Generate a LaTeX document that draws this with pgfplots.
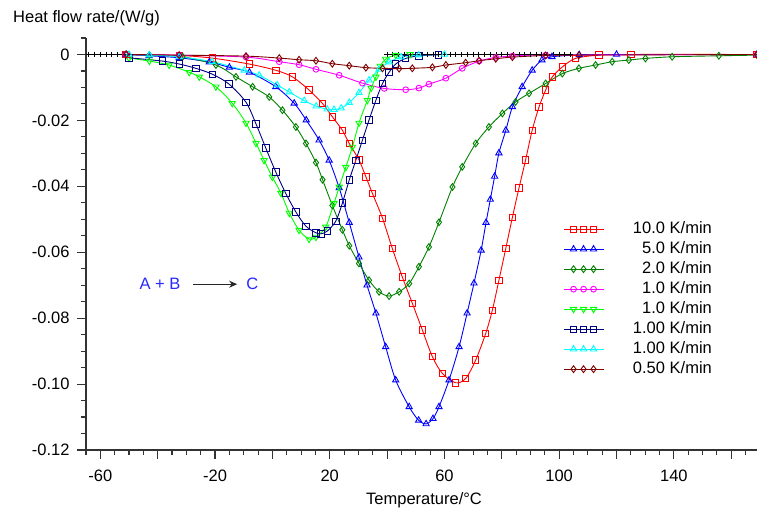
\documentclass[border=0pt]{standalone}
\usepackage{fontspec}
\setmainfont{Liberation Sans}
\usepackage{pgfplots}
\pgfplotsset{compat=1.18}
\usetikzlibrary{arrows.meta}
\newcommand{\fs}{\fontsize{16.5}{19}\selectfont}
\definecolor{cRed}{RGB}{255,0,0}
\definecolor{cBlue}{RGB}{0,0,255}
\definecolor{cDkGreen}{RGB}{0,128,0}
\definecolor{cMag}{RGB}{255,0,255}
\definecolor{cLime}{RGB}{0,255,0}
\definecolor{cNavy}{RGB}{0,0,128}
\definecolor{cCyan}{RGB}{0,255,255}
\definecolor{cBrown}{RGB}{128,0,0}
\definecolor{cText}{RGB}{40,40,255}
\begin{document}
\begin{tikzpicture}
\useasboundingbox (-86pt,-58pt) rectangle (671pt,450pt);
\begin{axis}[
  scale only axis, width=671pt, height=412pt,
  xmin=-65, xmax=169, ymin=-0.12, ymax=0.005,
  axis lines*=left,
  axis line style={line width=1.1pt, black!80},
  tick style={line width=1.1pt, black!80},
  tick align=outside,
  major tick length=9pt, minor tick length=5pt,
  xtick={-60,-40,-20,0,20,40,60,80,100,120,140,160},
  xticklabels={-60,,-20,,20,,60,,100,,140,},
  minor xtick={-65,-55,-50,-45,-35,-30,-25,-15,-10,-5,5,10,15,25,30,35,45,50,55,65,70,75,85,90,95,105,110,115,125,130,135,145,150,155,165},
  ytick={-0.12,-0.1,-0.08,-0.06,-0.04,-0.02,0},
  yticklabels={-0.12,-0.10,-0.08,-0.06,-0.04,-0.02,0},
  minor ytick={0.005,-0.005,-0.01,-0.015,-0.025,-0.03,-0.035,-0.045,-0.05,-0.055,-0.065,-0.07,-0.075,-0.085,-0.09,-0.095,-0.105,-0.11,-0.115},
  scaled x ticks=false, scaled y ticks=false,
  tick label style={font=\fs},
  xticklabel style={yshift=-7pt},
  yticklabel style={xshift=-4pt},
  legend style={draw=none, fill=none, at={(axis description cs:0.711,0.553)}, anchor=north west,
    inner sep=0pt, outer sep=0pt, row sep=6pt, column sep=29pt, font=\fs,
    nodes={inner sep=0pt, text height=11pt, text depth=3pt}},
  legend cell align=right,
  legend image code/.code={\draw[mark repeat=2, mark phase=2] plot coordinates {(0pt,0pt) (10pt,0pt) (15pt,0pt) (20pt,0pt) (25pt,0pt) (30pt,0pt) (40pt,0pt)};},
  every axis plot/.append style={line width=0.9pt, mark options={solid}},
]
% black baseline with + marks
\addplot[black, mark=+, mark size=2.8pt, forget plot] coordinates {(-64,0) (-62,0) (-60,0) (-58,0) (-56,0) (-54,0) (-52,0) (-50,0)};
\addplot[black, mark=+, mark size=2.8pt, forget plot] coordinates {(40,0) (42,0) (44,0) (46,0) (48,0) (50,0) (52,0) (54,0) (56,0) (58,0) (60,0) (62,0) (64,0) (66,0) (68,0) (70,0) (72,0) (74,0) (76,0) (78,0) (80,0) (82,0) (84,0) (86,0) (88,0) (90,0) (92,0) (94,0) (96,0) (98,0) (100,0) (102,0) (104,0)};

% 10.0 K/min
\addplot[cRed, mark=square, mark size=3.2pt, smooth] coordinates {
(-51,0) (-32.5,-0.0003) (-21,-0.0011) (-8.1,-0.0029) (1.2,-0.0048) (7,-0.0068) (12.8,-0.0108) (17.5,-0.0149) (20.9,-0.0189) (24.4,-0.0230) (26.8,-0.0270) (30.2,-0.0320) (32.6,-0.0371) (34.9,-0.0422) (38.4,-0.0497) (41.8,-0.0588) (45.3,-0.0675) (48.8,-0.0755) (52.3,-0.0836) (55.8,-0.0917) (59.3,-0.0968) (63.9,-0.0996) (67.4,-0.0983) (70.9,-0.0927) (74.4,-0.0846) (76.7,-0.0776) (79,-0.0685) (81.4,-0.0588) (83.7,-0.0494) (86,-0.0405) (88.3,-0.0320) (90.6,-0.0230) (93,-0.0159) (95.3,-0.0108) (97.6,-0.0068) (101.1,-0.0038) (105.7,-0.0012) (113.9,-0.0002) (125,0) (169,0)};
\addlegendentry{10.0 K/min}
% 5.0 K/min
\addplot[cBlue, mark=triangle, mark size=3.6pt, smooth] coordinates {
(-51,0) (-43,-0.0004) (-32.5,-0.0010) (-22,-0.0023) (-15,-0.0039) (-8,-0.0054) (1.2,-0.0098) (7.6,-0.0148) (11.8,-0.0199) (16.3,-0.0260) (19.8,-0.0321) (23.3,-0.0405) (26.8,-0.0510) (30.2,-0.0615) (33,-0.0700) (36.1,-0.0785) (39.5,-0.0887) (43,-0.0988) (47.7,-0.1069) (51,-0.1110) (53.6,-0.1121) (56,-0.1105) (58.1,-0.1069) (61.6,-0.0988) (65.1,-0.0887) (67.9,-0.0785) (70.3,-0.0694) (72.8,-0.0594) (74.5,-0.0510) (76,-0.0440) (77.5,-0.0370) (79,-0.0299) (81.4,-0.0230) (83.7,-0.0159) (87.1,-0.0098) (90.6,-0.0048) (94,-0.0017) (97.5,-0.0007) (107,-0.0001) (120,0) (169,0)};
\addlegendentry{5.0 K/min}
% 2.0 K/min
\addplot[cDkGreen, mark=diamond, mark size=3.4pt, smooth] coordinates {
(-51,0) (-42.9,-0.0002) (-31.3,-0.0007) (-19.7,-0.0032) (-12.7,-0.0068) (-6.9,-0.0098) (-1.1,-0.0129) (3.5,-0.0169) (8.2,-0.0220) (11.7,-0.0270) (15.2,-0.0328) (17.5,-0.0380) (20.9,-0.0458) (24.4,-0.0532) (26.8,-0.0580) (30.2,-0.0634) (33.7,-0.0685) (37.2,-0.0720) (40.7,-0.0733) (44.2,-0.0720) (47.7,-0.0695) (51.1,-0.0644) (54.6,-0.0584) (58.1,-0.0509) (62.8,-0.0402) (66.2,-0.0341) (70.9,-0.0270) (75.5,-0.0220) (80.2,-0.0179) (84.8,-0.0144) (89.5,-0.0118) (95.3,-0.0088) (101.1,-0.0058) (106.9,-0.0042) (112.7,-0.0032) (118.5,-0.0022) (124.3,-0.0017) (130.1,-0.0012) (139.4,-0.0007) (155.7,-0.0004) (169,-0.0002)};
\addlegendentry{2.0 K/min}
% 1.0 K/min (magenta)
\addplot[cMag, mark=o, mark size=2.9pt, smooth] coordinates {
(-51,0) (-32.5,-0.0002) (-9.2,-0.0008) (2.4,-0.0022) (9.3,-0.0031) (15.2,-0.0045) (23.3,-0.0063) (31.4,-0.0087) (39,-0.0103) (46.5,-0.0107) (51.1,-0.0102) (54.6,-0.0090) (60.5,-0.0072) (66.2,-0.0042) (72.1,-0.0020) (77.9,-0.0009) (83.7,-0.0005) (95.3,-0.0002) (169,0)};
\addlegendentry{1.0 K/min}
% 1.0 K/min (lime)
\addplot[cLime, mark=triangle, mark size=3.6pt, mark options={rotate=180}, smooth] coordinates {
(-50,-0.0011) (-42.9,-0.0020) (-36,-0.0032) (-29,-0.0054) (-25.5,-0.0068) (-19.7,-0.0098) (-14,-0.0148) (-9.2,-0.0208) (-5.7,-0.0269) (-2.9,-0.0321) (0,-0.0372) (3,-0.0421) (5.9,-0.0481) (9.3,-0.0533) (12.8,-0.0560) (15.2,-0.0554) (18.6,-0.0523) (21.5,-0.0451) (23.3,-0.0402) (25.6,-0.0342) (27.9,-0.0281) (30.2,-0.0208) (33.1,-0.0139) (34.4,-0.0102) (36.1,-0.0068) (37.6,-0.0035) (39.5,-0.0014) (43,-0.0002) (48,0)};
\addlegendentry{1.0 K/min}
% 1.00 K/min (navy)
\addplot[cNavy, mark=square, mark size=3.2pt, smooth] coordinates {
(-50,-0.0010) (-38.4,-0.0020) (-32.5,-0.0029) (-26.7,-0.0042) (-20.9,-0.0060) (-15.1,-0.0090) (-9.2,-0.0145) (-5.7,-0.0211) (-2.3,-0.0284) (1.2,-0.0357) (4.7,-0.0422) (8.2,-0.0478) (11.7,-0.0521) (15.2,-0.0541) (17,-0.0544) (19.1,-0.0536) (22.1,-0.0506) (24.4,-0.0451) (26.8,-0.0381) (29.1,-0.0321) (31.4,-0.0260) (33.7,-0.0199) (36.1,-0.0139) (38.4,-0.0088) (40.7,-0.0054) (43,-0.0029) (46.5,-0.0012) (51.1,-0.0004) (58,-0.0001)};
\addlegendentry{1.00 K/min}
% 1.00 K/min (cyan)
\addplot[cCyan, mark=triangle, mark size=3.6pt, smooth] coordinates {
(-50,0) (-42.9,-0.0002) (-32.5,-0.0007) (-21,-0.0022) (-9.8,-0.0048) (-4.6,-0.0063) (1.7,-0.0093) (5.9,-0.0114) (11.1,-0.0140) (15.3,-0.0157) (19.1,-0.0166) (21.5,-0.0167) (24,-0.0163) (26.8,-0.0146) (30.2,-0.0116) (33.7,-0.0078) (37.2,-0.0045) (40.7,-0.0023) (44.9,-0.0008) (51,-0.0002) (60,0)};
\addlegendentry{1.00 K/min}
% 0.50 K/min
\addplot[cBrown, mark=diamond, mark size=3.4pt, smooth] coordinates {
(-51,0) (-32.5,-0.0002) (-9.2,-0.0005) (2.4,-0.0011) (9.3,-0.0016) (15.2,-0.0019) (20.9,-0.0028) (26.8,-0.0034) (32.6,-0.0040) (38.4,-0.0042) (44.2,-0.0043) (48.8,-0.0042) (55.8,-0.0039) (60.5,-0.0032) (67.4,-0.0025) (72.1,-0.0019) (77.9,-0.0013) (83.7,-0.0008) (95.3,-0.0003) (106.9,-0.0002) (169,0)};
\addlegendentry{0.50 K/min}

\node[anchor=west, inner sep=0pt, text=cText, font=\fs] at (axis cs:-46.4,-0.0697) {A + B};
\draw[black!85, line width=0.8pt, -{Stealth[length=8pt,width=7pt]}] (axis cs:-27.6,-0.0697) -- (axis cs:-12.3,-0.0697);
\node[anchor=west, inner sep=0pt, text=cText, font=\fs] at (axis cs:-9.1,-0.0697) {C};
\end{axis}
\node[anchor=west, inner sep=0pt, font=\fs] at (-73pt,432pt) {Heat flow rate/(W/g)};
\node[anchor=base, inner sep=0pt, font=\fs] at (338pt,-54pt) {Temperature/°C};
\end{tikzpicture}
\end{document}
